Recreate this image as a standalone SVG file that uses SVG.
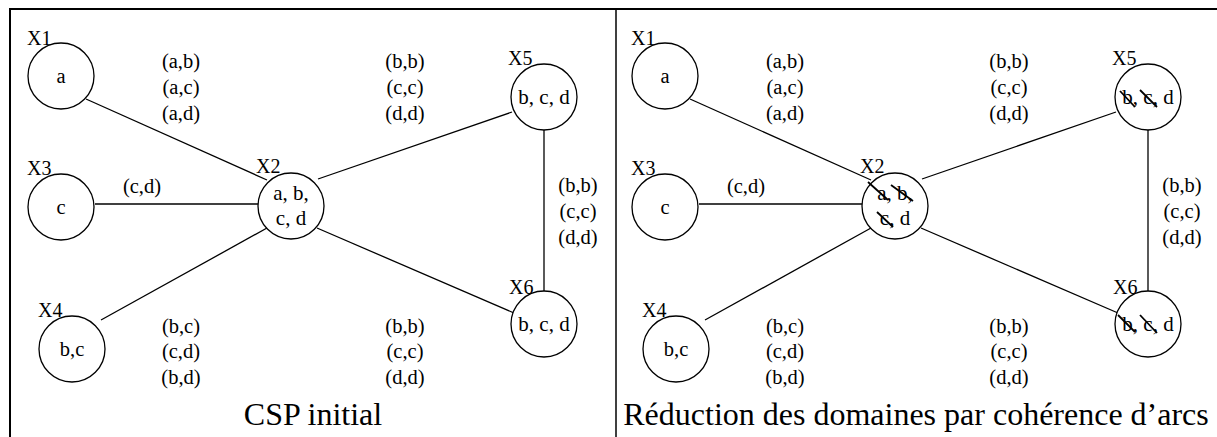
<svg xmlns="http://www.w3.org/2000/svg" width="1217" height="437" viewBox="0 0 1217 437">
<style>
text{font-family:"Liberation Serif","Times New Roman",serif;fill:#000}
.n{fill:#fff;stroke:#000;stroke-width:1.3}
.e{stroke:#000;stroke-width:1.3;fill:none}
.s{stroke:#000;stroke-width:1.8}
.lb{font-size:20px}
.v{font-size:21px;text-anchor:middle}
.el{font-size:20.5px;text-anchor:middle}
.cap{font-size:32px;text-anchor:middle}
.b{stroke:#000;fill:none}
</style>
<g id="frame">
<line class="b" x1="9" y1="9" x2="1217" y2="9" stroke-width="2"/>
<line class="b" x1="10" y1="8" x2="10" y2="437" stroke-width="2"/>
<line class="b" x1="616" y1="9" x2="616" y2="437" stroke-width="1.5"/>
</g>
<g id="left">
<g id="connectors-left">
<line class="e" x1="86" y1="99" x2="267" y2="180"/>
<line class="e" x1="95" y1="204" x2="258" y2="204"/>
<line class="e" x1="267" y1="228" x2="101" y2="320"/>
<line class="e" x1="318" y1="179" x2="512" y2="112"/>
<line class="e" x1="317" y1="228" x2="514" y2="313"/>
<line class="e" x1="544" y1="130" x2="544" y2="291"/>
<text class="el" x="181" y="68">(a,b)</text>
<text class="el" x="181" y="94">(a,c)</text>
<text class="el" x="181" y="120">(a,d)</text>
<text class="el" x="405" y="68">(b,b)</text>
<text class="el" x="405" y="94">(c,c)</text>
<text class="el" x="405" y="120">(d,d)</text>
<text class="el" x="142" y="193">(c,d)</text>
<text class="el" x="578" y="192">(b,b)</text>
<text class="el" x="578" y="218">(c,c)</text>
<text class="el" x="578" y="244">(d,d)</text>
<text class="el" x="181" y="333">(b,c)</text>
<text class="el" x="181" y="358">(c,d)</text>
<text class="el" x="181" y="384">(b,d)</text>
<text class="el" x="405" y="333">(b,b)</text>
<text class="el" x="405" y="358">(c,c)</text>
<text class="el" x="405" y="384">(d,d)</text>
</g>
<g id="X1"><circle class="n" cx="61" cy="76" r="33"/><text class="lb" x="27" y="45">X1</text><text class="el" x="61" y="83">a</text></g>
<g id="X3"><circle class="n" cx="61" cy="207" r="33"/><text class="lb" x="27" y="175">X3</text><text class="el" x="61" y="214">c</text></g>
<g id="X4"><circle class="n" cx="72" cy="349" r="33"/><text class="lb" x="38" y="317">X4</text><text class="el" x="72" y="356">b,c</text></g>
<g id="X2"><circle class="n" cx="291" cy="206" r="33"/><text class="lb" x="256" y="173">X2</text><text class="v" x="291" y="200">a, b,</text><text class="v" x="291" y="225">c, d</text></g>
<g id="X5"><circle class="n" cx="544" cy="97" r="33"/><text class="lb" x="508" y="65">X5</text><text class="v" x="544" y="104">b, c, d</text></g>
<g id="X6"><circle class="n" cx="544" cy="324" r="33"/><text class="lb" x="509" y="294">X6</text><text class="v" x="544" y="331">b, c, d</text></g>
</g>
<g id="right" transform="translate(604,0)">
<g id="connectors-right">
<line class="e" x1="86" y1="99" x2="267" y2="180"/>
<line class="e" x1="95" y1="204" x2="258" y2="204"/>
<line class="e" x1="267" y1="228" x2="101" y2="320"/>
<line class="e" x1="318" y1="179" x2="512" y2="112"/>
<line class="e" x1="317" y1="228" x2="514" y2="313"/>
<line class="e" x1="544" y1="130" x2="544" y2="291"/>
<text class="el" x="181" y="68">(a,b)</text>
<text class="el" x="181" y="94">(a,c)</text>
<text class="el" x="181" y="120">(a,d)</text>
<text class="el" x="405" y="68">(b,b)</text>
<text class="el" x="405" y="94">(c,c)</text>
<text class="el" x="405" y="120">(d,d)</text>
<text class="el" x="142" y="193">(c,d)</text>
<text class="el" x="578" y="192">(b,b)</text>
<text class="el" x="578" y="218">(c,c)</text>
<text class="el" x="578" y="244">(d,d)</text>
<text class="el" x="181" y="333">(b,c)</text>
<text class="el" x="181" y="358">(c,d)</text>
<text class="el" x="181" y="384">(b,d)</text>
<text class="el" x="405" y="333">(b,b)</text>
<text class="el" x="405" y="358">(c,c)</text>
<text class="el" x="405" y="384">(d,d)</text>
</g>
<g id="X1r"><circle class="n" cx="61" cy="76" r="33"/><text class="lb" x="27" y="45">X1</text><text class="el" x="61" y="83">a</text></g>
<g id="X3r"><circle class="n" cx="61" cy="207" r="33"/><text class="lb" x="27" y="175">X3</text><text class="el" x="61" y="214">c</text></g>
<g id="X4r"><circle class="n" cx="72" cy="349" r="33"/><text class="lb" x="38" y="317">X4</text><text class="el" x="72" y="356">b,c</text></g>
<g id="X2r"><circle class="n" cx="291" cy="206" r="33"/><text class="lb" x="256" y="173">X2</text><text class="v" x="291" y="200">a, b,</text><text class="v" x="291" y="225">c, d</text>
<line class="s" x1="264" y1="182" x2="284" y2="200"/><line class="s" x1="287" y1="185" x2="309" y2="201"/><line class="s" x1="273" y1="212" x2="289" y2="227"/></g>
<g id="X5r"><circle class="n" cx="544" cy="97" r="33"/><text class="lb" x="508" y="65">X5</text><text class="v" x="544" y="104">b, c, d</text>
<line class="s" x1="516" y1="91" x2="531" y2="107"/><line class="s" x1="536" y1="90" x2="553" y2="107"/></g>
<g id="X6r"><circle class="n" cx="544" cy="324" r="33"/><text class="lb" x="509" y="294">X6</text><text class="v" x="544" y="331">b, c, d</text>
<line class="s" x1="514" y1="315" x2="531" y2="332"/><line class="s" x1="536" y1="315" x2="553" y2="333"/></g>
</g>
<g id="captions">
<text class="cap" x="313" y="425">CSP initial</text>
<text class="cap" x="916" y="425">Réduction des domaines par cohérence d’arcs</text>
</g>
</svg>
